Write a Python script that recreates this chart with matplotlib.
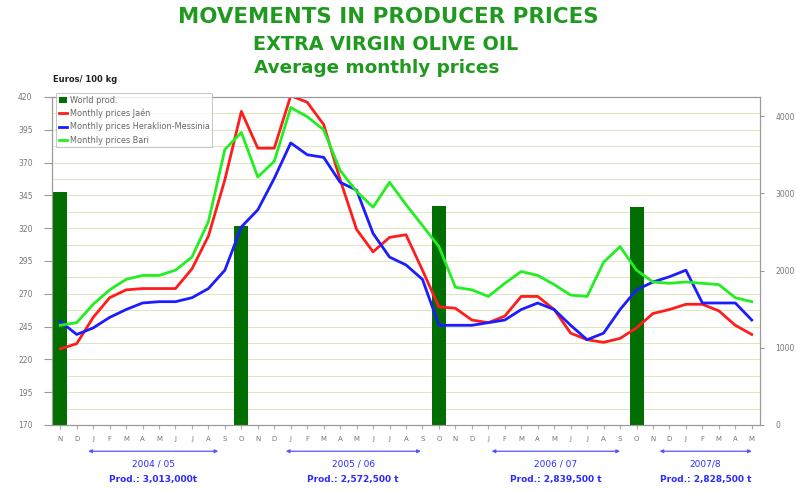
import matplotlib.pyplot as plt
import numpy as np

# months Nov 2004 .. May 2008
months = ["N", "D",
          "J", "F", "M", "A", "M", "J", "J", "A", "S", "O", "N", "D",
          "J", "F", "M", "A", "M", "J", "J", "A", "S", "O", "N", "D",
          "J", "F", "M", "A", "M", "J", "J", "A", "S", "O", "N", "D",
          "J", "F", "M", "A", "M"]

# EUR / 100 kg
price_jaen = [228, 232, 252, 267, 273, 274, 274, 274, 289, 314, 357, 409, 381,
              381, 421, 416, 399, 357, 319, 302, 313, 315, 288, 260, 259, 250,
              248, 253, 268, 268, 258, 240, 235, 233, 236, 244, 255, 258, 262,
              262, 257, 246, 239]
price_crete = [249, 239, 244, 252, 258, 263, 264, 264, 267, 274, 288, 321, 334,
               358, 385, 376, 374, 355, 349, 316, 298, 292, 281, 246, 246, 246,
               248, 250, 258, 263, 258, 246, 235, 240, 258, 273, 279, 283, 288,
               263, 263, 263, 250]
price_bari = [246, 248, 262, 273, 281, 284, 284, 288, 298, 325, 380, 393, 359,
              371, 412, 405, 395, 364, 348, 336, 355, 338, 322, 306, 275, 273,
              268, 278, 287, 284, 277, 269, 268, 294, 306, 288, 279, 278, 279,
              278, 277, 267, 264]

# world production, thousand t (drawn at the first month of each season)
prod_idx = [0, 11, 23, 35]
world_prod = [3013.0, 2572.5, 2839.5, 2828.5]
seasons = ["2004 / 05", "2005 / 06", "2006 / 07", "2007/8"]
prod_labels = ["Prod.: 3,013,000t", "Prod.: 2,572,500 t",
               "Prod.: 2,839,500 t", "Prod.: 2,828,500 t"]
season_spans = [(1.7, 9.6), (13.7, 21.9), (26.2, 34.0), (36.4, 42.0)]

legend_labels = ["World prod.", "Monthly prices Jaén",
                 "Monthly prices Heraklion-Messinia", "Monthly prices Bari"]

TITLE_GREEN = "#1F9A1F"
BG = "#C4DEC0"
BLUE_TXT = "#2B2BFF"

fig = plt.figure(figsize=(7.96, 4.91), dpi=100, facecolor="white")
ax = fig.add_axes([52 / 796, 1 - 425 / 491, 708 / 796, 328 / 491])
axr = ax.twinx()

x = np.arange(len(months))

# background + gridlines live on the bar axes (drawn below the lines)
axr.set_facecolor(BG)
ax.patch.set_visible(False)
ax.set_zorder(axr.get_zorder() + 1)
axr.hlines(np.arange(182.5, 420, 12.5), 0, 1, transform=ax.get_yaxis_transform(),
           colors="#D8E2AE", lw=0.6, zorder=0.5)

bars = axr.bar(prod_idx, world_prod, width=0.85, color="#006E00", zorder=2)
axr.set_ylim(0, 4250)
axr.set_yticks([0, 1000, 2000, 3000, 4000])
axr.tick_params(axis="y", labelsize=5.5, labelcolor="#777777", color="#999999",
                length=3, pad=8)

l1, = ax.plot(x, price_jaen, color="#FF1C1C", lw=2.0)
l2, = ax.plot(x, price_crete, color="#1C1CFF", lw=2.0)
l3, = ax.plot(x, price_bari, color="#22EE22", lw=2.0)

ax.set_xlim(-0.5, len(months) - 0.5)
ax.set_ylim(170, 420)
ax.set_yticks(np.arange(170, 421, 25))
ax.tick_params(axis="y", labelsize=5.5, labelcolor="#777777", color="#999999",
               length=6, pad=8)
ax.set_xticks(x)
ax.set_xticklabels(months)
ax.tick_params(axis="x", labelsize=5, labelcolor="#777777", color="#AAAAAA",
               length=3, pad=5)

for a in (ax, axr):
    for s in a.spines.values():
        s.set_color("#9A9A9A")
        s.set_linewidth(0.8)

leg = ax.legend([bars, l1, l2, l3], legend_labels, loc="upper left",
                bbox_to_anchor=(0.0, 1.025), fontsize=5.9, frameon=True,
                fancybox=False, edgecolor="#AAAAAA", borderpad=0.35,
                labelspacing=0.5, handlelength=1.0, handletextpad=0.3)
leg.get_frame().set_linewidth(0.6)
for t in leg.get_texts():
    t.set_color("#666666")

# titles
fig.text(388 / 796, 1 - 17 / 491, "MOVEMENTS IN PRODUCER PRICES", ha="center",
         va="center", fontsize=15.4, fontweight="bold", color=TITLE_GREEN)
fig.text(253 / 796, 1 - 45 / 491, "EXTRA VIRGIN OLIVE OIL", ha="left",
         va="center", fontsize=13.8, fontweight="bold", color=TITLE_GREEN)
fig.text(254 / 796, 1 - 68 / 491, "Average monthly prices", ha="left",
         va="center", fontsize=13.2, fontweight="bold", color=TITLE_GREEN)
fig.text(53 / 796, 1 - 80 / 491, "Euros/ 100 kg", ha="left", va="center",
         fontsize=6, fontweight="bold", color="#222222")

# season annotations under the axis
tr = ax.get_xaxis_transform()
for (x0, x1), season, prod in zip(season_spans, seasons, prod_labels):
    ax.annotate("", xy=(x0, -0.08), xytext=(x1, -0.08), xycoords=tr,
                textcoords=tr, annotation_clip=False,
                arrowprops=dict(arrowstyle="<|-|>", color="#5555FF", lw=0.9,
                                mutation_scale=5, shrinkA=0, shrinkB=0))
    xm = (x0 + x1) / 2
    ax.text(xm, -0.12, season, transform=tr, ha="center", va="center",
            fontsize=6.5, color=BLUE_TXT)
    ax.text(xm, -0.165, prod, transform=tr, ha="center", va="center",
            fontsize=6.5, fontweight="bold", color=BLUE_TXT)

fig.savefig("out.png", dpi=100, facecolor="white")
